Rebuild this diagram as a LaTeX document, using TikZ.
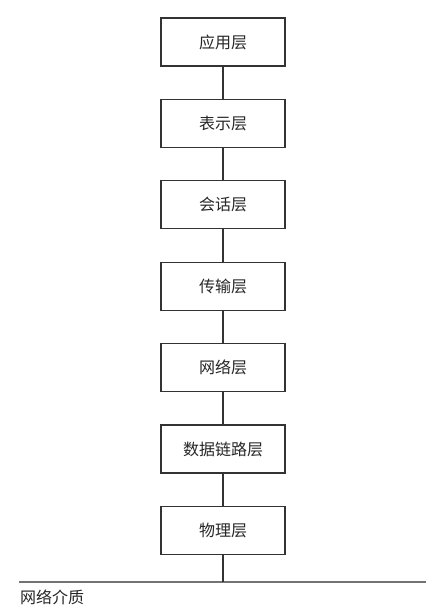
\documentclass[tikz,border=0pt]{standalone}
\usepackage{fontspec}
\newfontfamily\cjk{Noto Sans CJK SC}
\usetikzlibrary{positioning}

\begin{document}
\begin{tikzpicture}[
		x=1pt, y=-1pt,
		layer/.style={
				draw=black!80, line width=1.1pt,
				minimum width=124pt, minimum height=48pt, inner sep=0pt,
				text=black!85, font=\cjk\fontsize{16}{16}\selectfont
			},
		link/.style={draw=black!80, line width=1.1pt},
		medium/.style={draw=black!55, line width=1.1pt},
		node distance=32.3pt
	]
	\useasboundingbox (0,0) rectangle (445,616);

	\node[layer] (app) at (223,42) {应用层};
	\node[layer, below=of app] (pres) {表示层};
	\node[layer, below=of pres] (sess) {会话层};
	\node[layer, below=of sess] (trans) {传输层};
	\node[layer, below=of trans] (net) {网络层};
	\node[layer, below=of net] (dlink) {数据链路层};
	\node[layer, below=of dlink] (phys) {物理层};

	\draw[link] (app) -- (pres);
	\draw[link] (pres) -- (sess);
	\draw[link] (sess) -- (trans);
	\draw[link] (trans) -- (net);
	\draw[link] (net) -- (dlink);
	\draw[link] (dlink) -- (phys);

	% network medium
	\coordinate (medL) at (19,582);
	\coordinate (medR) at (426,582);
	\coordinate (medP) at (phys.south |- medL);
	\draw[medium] (medL) -- (medR);
	\draw[link] (phys) -- (medP);
	\node[anchor=west, inner sep=0pt, text=black!85, font=\cjk\fontsize{16}{16}\selectfont] (medtext) at (20,597) {网络介质};
\end{tikzpicture}
\end{document}
